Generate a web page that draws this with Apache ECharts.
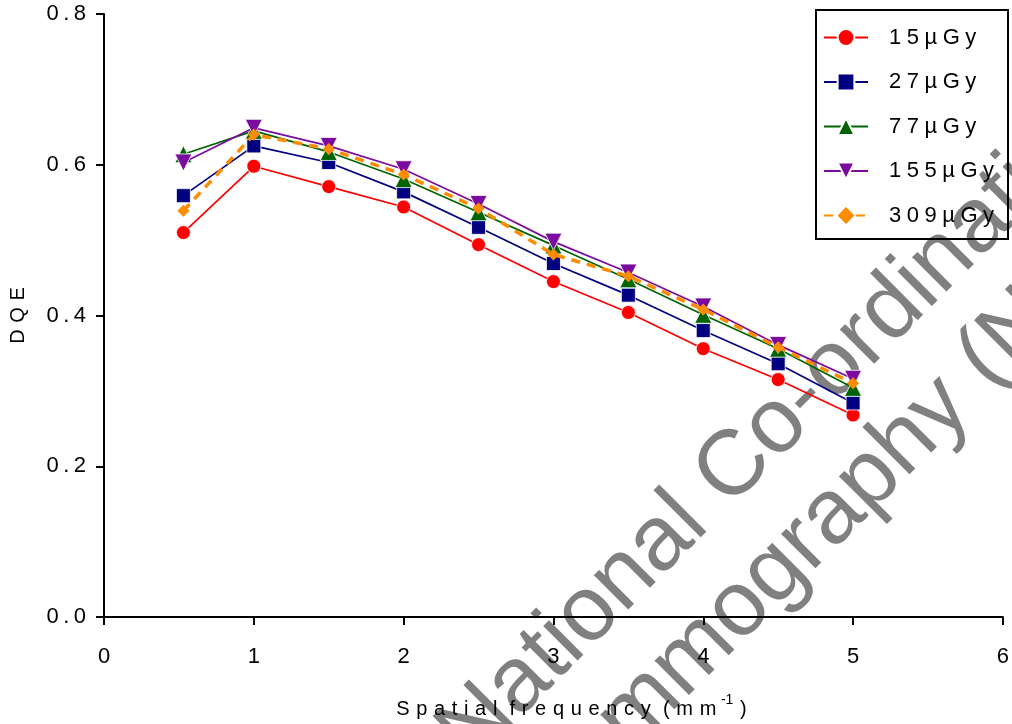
<!DOCTYPE html>
<html>
<head>
<meta charset="utf-8">
<script src="https://cdn.jsdelivr.net/npm/echarts@6/dist/echarts.min.js"></script>
<style>
  html, body { margin: 0; padding: 0; background: #fff; }
  #chart { width: 1012px; height: 724px; }
</style>
</head>
<body>
<div id="chart"></div>
<script>
// spatial frequency (mm^-1)
const freqs = [0.53, 1, 1.5, 2, 2.5, 3, 3.5, 4, 4.5, 5]

const seriesNames = ['15µGy', '27µGy', '77µGy', '155µGy', '309µGy']
const dqe15 = [0.510, 0.598, 0.571, 0.544, 0.494, 0.445, 0.404, 0.356, 0.315, 0.268]
const dqe27 = [0.559, 0.625, 0.603, 0.564, 0.517, 0.469, 0.427, 0.380, 0.336, 0.284]
const dqe77 = [0.614, 0.645, 0.617, 0.581, 0.537, 0.493, 0.448, 0.401, 0.356, 0.304]
const dqe155 = [0.603, 0.649, 0.625, 0.594, 0.548, 0.498, 0.457, 0.412, 0.361, 0.316]
const dqe309 = [0.539, 0.640, 0.621, 0.587, 0.542, 0.481, 0.452, 0.408, 0.358, 0.310]

const xTicks = [0, 1, 2, 3, 4, 5, 6]
const yTicks = [0.0, 0.2, 0.4, 0.6, 0.8]

const FONT = '"Liberation Sans", Arial, sans-serif'
// the original uses wide letter spacing, fake it with narrow unicode spaces
const spaced = (s, gap = '\u2009') => String(s).split('').join(gap)
const pairs = ys => freqs.map((x, i) => [x, ys[i]])

const chart = echarts.init(document.getElementById('chart'))

// marker / line styles per series
const styles = [
  { color: '#ff0000', symbol: 'circle', size: 14 },
  { color: '#000080', symbol: 'rect', size: 14 },
  { color: '#006400', symbol: 'triangle', size: 17 },
  { color: '#7b0a9e', symbol: 'triangle', size: 17, rotate: 180 },
  { color: '#ff8c00', symbol: 'diamond', size: 12, dashed: true }
]
const allData = [dqe15, dqe27, dqe77, dqe155, dqe309]

const series = seriesNames.map((name, i) => {
  const st = styles[i]
  return {
    name,
    type: 'line',
    data: pairs(allData[i]),
    symbol: st.symbol,
    symbolSize: st.size,
    symbolRotate: st.rotate || 0,
    z: 3 + i,
    lineStyle: {
      color: st.color,
      width: st.dashed ? 3.5 : 1.7,
      type: st.dashed ? [9, 7] : 'solid'
    },
    itemStyle: {
      color: st.color,
      borderColor: '#fff',
      borderWidth: st.dashed ? 0 : 0.8,
      opacity: 1
    },
    emphasis: { disabled: true },
    animation: false
  }
})

const option = {
  backgroundColor: '#fff',
  animation: false,
  grid: { left: 102, right: 5, top: 14, bottom: 107, containLabel: false },
  xAxis: {
    type: 'value',
    min: xTicks[0],
    max: xTicks[xTicks.length - 1],
    interval: 1,
    name: spaced('Spatial', '\u2004') + ' \u2004' + spaced('frequency', '\u2004') + ' \u2004' +
      spaced('(mm', '\u2004') + '{sup|\u2004-1}\u2004)',
    nameLocation: 'middle',
    nameGap: 76,
    nameTextStyle: {
      fontFamily: FONT, fontSize: 20, color: '#000',
      padding: [0, 0, 0, 36],
      rich: { sup: { fontFamily: FONT, fontSize: 14, color: '#000', padding: [0, 0, 18, 0] } }
    },
    axisLine: { onZero: false, lineStyle: { color: '#000', width: 2 } },
    axisTick: { length: 8, lineStyle: { color: '#000', width: 2 } },
    axisLabel: { fontFamily: FONT, fontSize: 22, color: '#000', margin: 29 },
    splitLine: { show: false }
  },
  yAxis: {
    type: 'value',
    min: yTicks[0],
    max: yTicks[yTicks.length - 1],
    interval: 0.2,
    name: spaced('DQE', '\u2004'),
    nameLocation: 'middle',
    nameGap: 76,
    nameTextStyle: { fontFamily: FONT, fontSize: 20, color: '#000' },
    axisLine: { onZero: false, lineStyle: { color: '#000', width: 2 } },
    axisTick: { length: 8, lineStyle: { color: '#000', width: 2 } },
    axisLabel: {
      fontFamily: FONT, fontSize: 22, color: '#000', margin: 18,
      formatter: v => spaced(v.toFixed(1))
    },
    splitLine: { show: false }
  },
  legend: {
    orient: 'vertical',
    left: 816,
    top: 10,
    padding: [16.5, 9, 12.5, 7],
    itemGap: 22.5,
    itemWidth: 44,
    itemHeight: 21,
    borderColor: '#000',
    borderWidth: 2,
    borderRadius: 0,
    selectedMode: false,
    formatter: name => spaced(name, '\u2005'),
    textStyle: {
      fontFamily: FONT, fontSize: 22, color: '#000',
      lineHeight: 22, width: 110, padding: [0, 0, 0, 16]
    },
    data: seriesNames
  },
  graphic: [
    {
      type: 'text',
      z: -10,
      x: 454, y: 748,
      rotation: Math.PI / 4,
      silent: true,
      style: {
        text: 'National Co-ordinating Centre',
        fontFamily: FONT, fontSize: 92, fill: '#808080',
        align: 'left', verticalAlign: 'middle'
      }
    },
    {
      type: 'text',
      z: -10,
      x: 522, y: 826,
      rotation: Math.PI / 4,
      silent: true,
      style: {
        text: 'Mammography (NCCPM)',
        fontFamily: FONT, fontSize: 92, fill: '#808080',
        align: 'left', verticalAlign: 'middle'
      }
    }
  ],
  series
}

chart.setOption(option)
</script>
</body>
</html>
